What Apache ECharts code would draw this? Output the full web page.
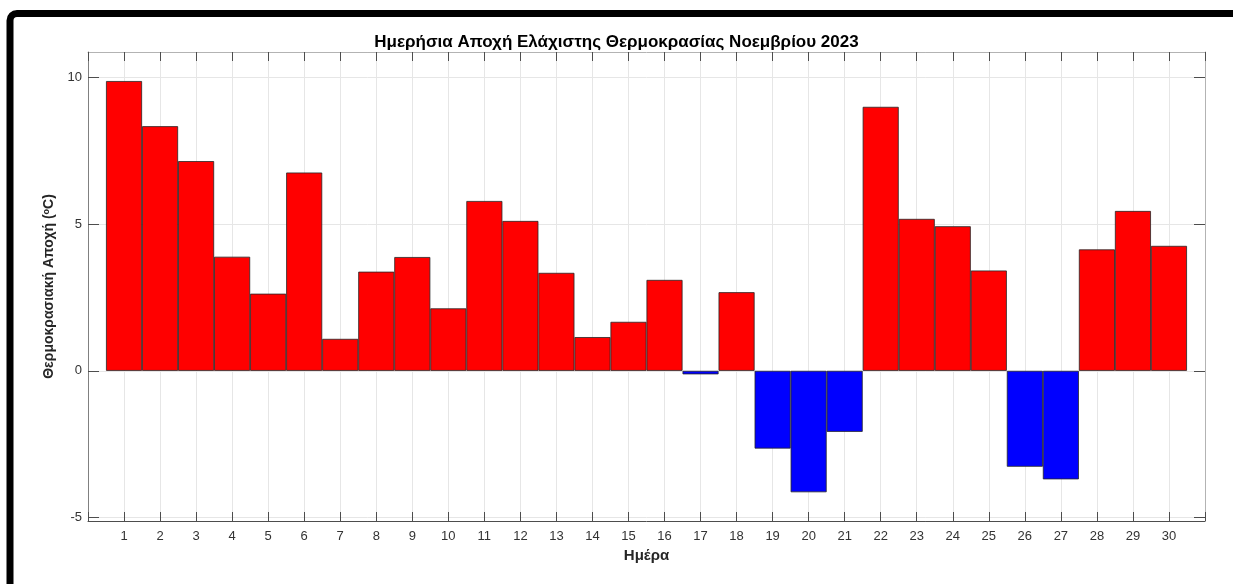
<!DOCTYPE html>
<html>
<head>
<meta charset="utf-8">
<script src="https://cdn.jsdelivr.net/npm/echarts@6/dist/echarts.min.js"></script>
<style>
html,body{margin:0;padding:0;background:#fff;}
#chart{width:1233px;height:584px;}
</style>
</head>
<body>
<div id="chart"></div>
<script>
// ---- data ----
const days = [1,2,3,4,5,6,7,8,9,10,11,12,13,14,15,16,17,18,19,20,21,22,23,24,25,26,27,28,29,30];
const anomalies = [9.88,8.34,7.15,3.89,2.63,6.76,1.09,3.38,3.88,2.13,5.79,5.11,3.34,1.15,1.67,3.10,-0.12,2.68,-2.65,-4.14,-2.08,9.00,5.18,4.93,3.42,-3.27,-3.70,4.14,5.45,4.26];
const yTicks = [-5,0,5,10];
const titleText = 'Ημερήσια Αποχή Ελάχιστης Θερμοκρασίας Νοεμβρίου 2023';
const xName = 'Ημέρα';
const yName = 'Θερμοκρασιακή Αποχή ({sup|o}C)';

const FONT = '"Liberation Sans", Arial, Helvetica, sans-serif';
const chart = echarts.init(document.getElementById('chart'), null, {renderer:'canvas'});

const xMin = 0, xMax = 31, yMin = -5.12, yMax = 10.87;
const gridCol = '#e6e6e6';

const option = {
  animation: false,
  backgroundColor: '#ffffff',
  title: {
    text: titleText,
    left: 'center',
    top: 34,
    padding: 0,
    textStyle: {fontFamily: FONT, fontSize: 17, fontWeight: 'bold', color: '#000'}
  },
  grid: {left: 88, right: 28, top: 52, bottom: 63, containLabel: false},
  xAxis: [
    {
      type: 'value', min: xMin, max: xMax, interval: 1,
      name: xName, nameLocation: 'middle', nameGap: 23,
      nameTextStyle: {fontFamily: FONT, fontSize: 15, fontWeight: 'bold', color: '#262626'},
      axisLine: {show: true, onZero: false, lineStyle: {color: '#4d4d4d', width: 1}},
      axisTick: {show: true, inside: true, length: 9, lineStyle: {color: '#4d4d4d'}},
      axisLabel: {
        fontFamily: FONT, fontSize: 13, color: '#333', margin: 9,
        formatter: v => (v >= days[0] && v <= days[days.length-1]) ? String(v) : ''
      },
      splitLine: {show: true, lineStyle: {color: gridCol, width: 1}}
    },
    {
      type: 'value', min: xMin, max: xMax, interval: 1, position: 'top',
      axisLine: {show: true, onZero: false, lineStyle: {color: '#b3b3b3', width: 1}},
      axisTick: {show: true, inside: true, length: 9, lineStyle: {color: '#4d4d4d'}},
      axisLabel: {show: false},
      splitLine: {show: false}
    }
  ],
  yAxis: [
    {
      type: 'value', min: yMin, max: yMax,
      name: yName, nameLocation: 'middle', nameGap: 30, nameRotate: 90,
      nameTextStyle: {
        fontFamily: FONT, fontSize: 14, fontWeight: 'bold', color: '#262626',
        rich: {sup: {fontFamily: FONT, fontSize: 9, fontWeight: 'bold', color: '#262626', verticalAlign: 'top', padding: [0,0,6,0]}}
      },
      axisLine: {show: true, onZero: false, lineStyle: {color: '#808080', width: 1}},
      axisTick: {show: true, inside: true, length: 11, customValues: yTicks, lineStyle: {color: '#4d4d4d'}},
      axisLabel: {fontFamily: FONT, fontSize: 13, color: '#333', margin: 6, customValues: yTicks},
      splitLine: {show: true, lineStyle: {color: gridCol, width: 1}}
    },
    {
      type: 'value', min: yMin, max: yMax, position: 'right',
      axisLine: {show: true, onZero: false, lineStyle: {color: '#b3b3b3', width: 1}},
      axisTick: {show: true, inside: true, length: 11, customValues: yTicks, lineStyle: {color: '#4d4d4d'}},
      axisLabel: {show: false, customValues: yTicks},
      splitLine: {show: false}
    }
  ],
  graphic: [
    {
      type: 'rect', z: 100, silent: true,
      shape: {x: 10, y: 13.5, width: 1400, height: 1000, r: 7},
      style: {fill: 'none', stroke: '#000', lineWidth: 7}
    }
  ],
  series: [
    {
      type: 'bar',
      xAxisIndex: 0, yAxisIndex: 0,
      barWidth: '100%',
      data: days.map((d, i) => [d, anomalies[i]]),
      itemStyle: {
        color: p => p.value[1] >= 0 ? '#ff0000' : '#0000ff',
        borderColor: '#262626',
        borderWidth: 0.8
      }
    }
  ]
};
chart.setOption(option);
</script>
</body>
</html>
